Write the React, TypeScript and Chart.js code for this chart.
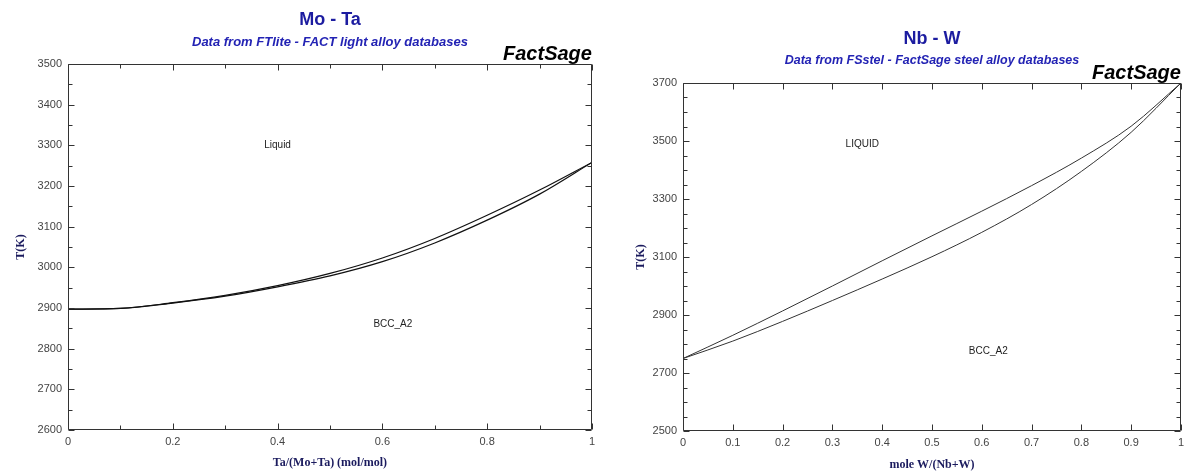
import React, { useEffect, useRef } from "react";
import { Chart, registerables } from "chart.js";

Chart.register(...registerables);

// ---------- Mo - Ta ----------
const moTaComposition = [0, 0.1, 0.2, 0.3, 0.4, 0.5, 0.6, 0.7, 0.8, 0.9, 1];
const moTaLiquidus = [2897, 2899, 2913, 2931, 2955, 2985, 3023, 3071, 3128, 3190, 3258];
const moTaSolidus = [2897, 2899, 2912, 2929, 2952, 2979, 3014, 3060, 3116, 3180, 3258];
const moTaPhaseLabels = ["Liquid", "BCC_A2"];
const moTaPhaseX = [0.4, 0.62];
const moTaPhaseT = [3300, 2860];

// ---------- Nb - W ----------
const nbWComposition = [0, 0.1, 0.2, 0.3, 0.4, 0.5, 0.6, 0.7, 0.8, 0.9, 1];
const nbWLiquidus = [2750, 2830, 2914, 3000, 3087, 3173, 3258, 3346, 3441, 3551, 3700];
const nbWSolidus = [2750, 2810, 2878, 2950, 3024, 3101, 3185, 3281, 3395, 3530, 3700];
const nbWPhaseLabels = ["LIQUID", "BCC_A2"];
const nbWPhaseX = [0.36, 0.613];
const nbWPhaseT = [3490, 2775];

const SANS = '"Liberation Sans", Arial, sans-serif';
const SERIF = '"Liberation Serif", "Times New Roman", serif';

const decorations = {
  id: "decorations",
  afterDatasetsDraw(chart: any, _args: any, opts: any) {
    const { ctx, chartArea: a } = chart;
    const xs = chart.scales.x;
    const ys = chart.scales.y;
    const L = Math.round(a.left) + 0.5;
    const R = Math.round(a.right) - 0.5;
    const T = Math.round(a.top) + 0.5;
    const B = Math.round(a.bottom) - 0.5;
    ctx.save();
    ctx.strokeStyle = opts.frameColor;
    ctx.lineWidth = 1;
    ctx.beginPath();
    ctx.rect(L, T, R - L, B - T);
    ctx.stroke();

    ctx.beginPath();
    const nx = Math.round((xs.max - xs.min) / opts.xMinor);
    for (let i = 0; i <= nx; i++) {
      const v = xs.min + i * opts.xMinor;
      const major = Math.abs(v / opts.xMajor - Math.round(v / opts.xMajor)) < 1e-6;
      const len = major ? 6 : 4;
      const px = Math.round(xs.getPixelForValue(v)) + 0.5;
      ctx.moveTo(px, B);
      ctx.lineTo(px, B - len);
      ctx.moveTo(px, T);
      ctx.lineTo(px, T + len);
    }
    const ny = Math.round((ys.max - ys.min) / opts.yMinor);
    for (let i = 0; i <= ny; i++) {
      const v = ys.min + i * opts.yMinor;
      const major = Math.abs((v - ys.min) / opts.yMajor - Math.round((v - ys.min) / opts.yMajor)) < 1e-6;
      const len = major ? 6 : 4;
      const py = Math.round(ys.getPixelForValue(v)) + 0.5;
      ctx.moveTo(L, py);
      ctx.lineTo(L + len, py);
      ctx.moveTo(R, py);
      ctx.lineTo(R - len, py);
    }
    ctx.stroke();

    ctx.fillStyle = "#222";
    ctx.font = `10px ${SANS}`;
    ctx.textAlign = "center";
    ctx.textBaseline = "middle";
    opts.phaseLabels.forEach((t: string, i: number) => {
      ctx.fillText(t, xs.getPixelForValue(opts.phaseX[i]), ys.getPixelForValue(opts.phaseT[i]));
    });

    const cx = (a.left + a.right) / 2;
    ctx.fillStyle = opts.titleColor;
    ctx.font = `bold 18px ${SANS}`;
    ctx.fillText(opts.title, cx, a.top - 44);
    ctx.font = `italic bold ${opts.subtitleSize}px ${SANS}`;
    ctx.fillStyle = opts.subtitleColor;
    ctx.fillText(opts.subtitle, cx, a.top - 22);
    ctx.textAlign = "right";
    ctx.fillStyle = "#000";
    ctx.font = `italic bold 20px ${SANS}`;
    ctx.fillText("FactSage", a.right, a.top - 10);
    ctx.restore();
  },
};

function buildConfig(spec: any) {
  const toPoints = (xs: number[], ys: number[]) => xs.map((x, i) => ({ x, y: ys[i] }));
  const lineStyle = {
    borderColor: spec.lineColor,
    borderWidth: spec.lineWidth,
    pointRadius: 0,
    cubicInterpolationMode: "monotone",
    fill: false,
  };
  const fmt = (v: number) => String(Number(Number(v).toFixed(2)));
  return {
    type: "line",
    data: {
      datasets: [
        { label: "Liquidus", data: toPoints(spec.xs, spec.liquidus), ...lineStyle },
        { label: "Solidus", data: toPoints(spec.xs, spec.solidus), ...lineStyle },
      ],
    },
    plugins: [decorations],
    options: {
      animation: false,
      responsive: false,
      layout: { padding: { top: spec.padTop, right: spec.padRight, left: 0, bottom: 0 } },
      plugins: {
        legend: { display: false },
        tooltip: { enabled: false },
        decorations: {
          frameColor: "#333",
          xMinor: 0.1,
          xMajor: spec.xStep,
          yMinor: 50,
          yMajor: spec.yStep,
          phaseLabels: spec.phaseLabels,
          phaseX: spec.phaseX,
          phaseT: spec.phaseT,
          title: spec.title,
          subtitle: spec.subtitle,
          subtitleSize: spec.subtitleSize,
          titleColor: "#1c1ca0",
          subtitleColor: "#2323b4",
        },
      },
      scales: {
        x: {
          type: "linear",
          min: 0,
          max: 1,
          grid: { display: false, drawTicks: false },
          border: { display: false },
          ticks: {
            stepSize: spec.xStep,
            padding: 5,
            maxRotation: 0,
            autoSkip: false,
            color: "#444",
            font: { family: SANS, size: 11 },
            callback: (v: number) => fmt(v),
          },
          title: {
            display: true,
            text: spec.xTitle,
            color: "#1b1b5e",
            font: { family: SERIF, size: 12, weight: "bold" },
            padding: { top: 0, bottom: spec.xTitlePad },
          },
          afterFit: (s: any) => {
            s.height = spec.xAxisHeight;
          },
        },
        y: {
          type: "linear",
          min: spec.yMin,
          max: spec.yMax,
          grid: { display: false, drawTicks: false },
          border: { display: false },
          ticks: {
            stepSize: spec.yStep,
            padding: 6,
            color: "#444",
            font: { family: SANS, size: 11 },
            callback: (v: number) => String(Math.round(v)),
          },
          title: {
            display: true,
            text: "T(K)",
            color: "#1b1b5e",
            font: { family: SERIF, size: 12, weight: "bold" },
            padding: { top: spec.yTitlePad, bottom: 0 },
          },
          afterFit: (s: any) => {
            s.width = spec.yAxisWidth;
          },
        },
      },
    },
  };
}

const moTaSpec = {
  xs: moTaComposition,
  liquidus: moTaLiquidus,
  solidus: moTaSolidus,
  phaseLabels: moTaPhaseLabels,
  phaseX: moTaPhaseX,
  phaseT: moTaPhaseT,
  title: "Mo - Ta",
  subtitle: "Data from FTlite - FACT light alloy databases",
  subtitleSize: 13,
  xTitle: "Ta/(Mo+Ta) (mol/mol)",
  xStep: 0.2,
  yMin: 2600,
  yMax: 3500,
  yStep: 100,
  lineColor: "#111",
  lineWidth: 1.2,
  padTop: 64,
  padRight: 7,
  xAxisHeight: 43,
  yAxisWidth: 68,
  xTitlePad: 3,
  yTitlePad: 14,
};

const nbWSpec = {
  xs: nbWComposition,
  liquidus: nbWLiquidus,
  solidus: nbWSolidus,
  phaseLabels: nbWPhaseLabels,
  phaseX: nbWPhaseX,
  phaseT: nbWPhaseT,
  title: "Nb - W",
  subtitle: "Data from FSstel - FactSage steel alloy databases",
  subtitleSize: 12.5,
  xTitle: "mole W/(Nb+W)",
  xStep: 0.1,
  yMin: 2500,
  yMax: 3700,
  yStep: 200,
  lineColor: "#333",
  lineWidth: 1,
  padTop: 83,
  padRight: 5,
  xAxisHeight: 42,
  yAxisWidth: 83,
  xTitlePad: 1,
  yTitlePad: 34,
};

function PhaseChart({ spec, width, height }: { spec: any; width: number; height: number }) {
  const ref = useRef<HTMLCanvasElement | null>(null);
  useEffect(() => {
    const chart = new Chart(ref.current as HTMLCanvasElement, buildConfig(spec) as any);
    return () => chart.destroy();
  }, [spec]);
  return (
    <canvas
      ref={ref}
      width={width}
      height={height}
      style={{ display: "block", width, height }}
    />
  );
}

export default function App() {
  useEffect(() => {
    document.body.style.margin = "0";
    document.body.style.background = "#fff";
  }, []);
  return (
    <div
      style={{
        position: "fixed",
        left: 0,
        top: 0,
        display: "flex",
        width: 1189,
        height: 473,
        background: "#fff",
      }}
    >
      <PhaseChart spec={moTaSpec} width={600} height={473} />
      <PhaseChart spec={nbWSpec} width={589} height={473} />
    </div>
  );
}
